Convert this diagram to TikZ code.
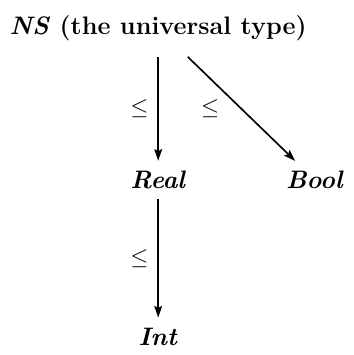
\documentclass[tikz,border=0pt]{standalone}
\usetikzlibrary{arrows.meta,positioning,calc}
\begin{document}
\begin{tikzpicture}[
  typenode/.style={font=\fontsize{13}{15.6}\selectfont\bfseries,inner sep=5pt},
  arr/.style={-{Stealth[length=6pt,width=4pt,inset=1pt]},line width=0.85pt},
  lbl/.style={midway,inner sep=0pt,left=4.6pt,font=\large}
]
\node[typenode,inner ysep=8pt] (ns) {\textit{NS} (the universal type)};
\node[typenode,below=53.5pt of ns] (real) {\textit{Real}};
\node[typenode,right=41pt of real] (bool) {\textit{Bool}};
\node[typenode,below=61pt of real] (int) {\textit{Int}};
\draw[arr] (ns) -- (real) node[lbl] {$\leq$};
\draw[arr] (ns) -- (bool) node[lbl,left=11pt] {$\leq$};
\draw[arr] (real) -- (int) node[lbl] {$\leq$};
\useasboundingbox ($(ns.center)+(-75pt,8.5pt)$) rectangle ($(ns.center)+(89.3pt,-155pt)$);
\end{tikzpicture}
\end{document}
